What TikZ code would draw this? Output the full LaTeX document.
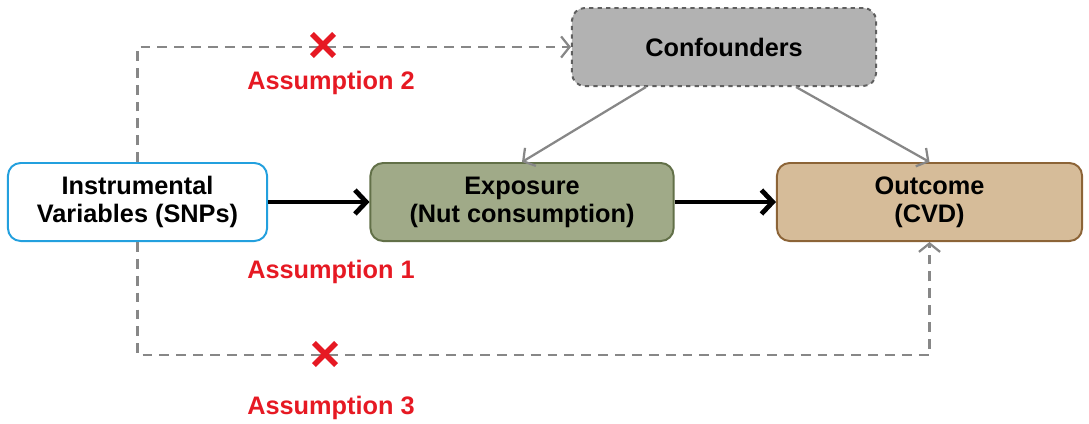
\documentclass[tikz,border=0pt]{standalone}
\usepackage{fontspec}
\setmainfont{Liberation Sans}
\usepackage{tikz}
\usetikzlibrary{arrows.meta,shapes.misc}
\definecolor{ivblue}{RGB}{35,160,222}
\definecolor{expgreen}{RGB}{160,170,136}
\definecolor{expedge}{RGB}{98,112,72}
\definecolor{outtan}{RGB}{214,188,153}
\definecolor{outedge}{RGB}{140,100,55}
\definecolor{confgray}{RGB}{178,178,178}
\definecolor{confedge}{RGB}{95,95,95}
\definecolor{linegray}{RGB}{135,135,135}
\definecolor{assumred}{RGB}{230,25,35}
\tikzstyle{factor}=[
        rounded corners=9pt,
        line width=1.4pt,
        align=center,
        font=\fontsize{18}{20}\selectfont\bfseries,
        minimum height=1.95cm,
        inner sep=0pt
]
\tikzstyle{causal}=[
        line width=3.4pt,
        -{Straight Barb[length=8pt,width=17pt]}
]
\tikzstyle{confounding}=[
        draw=linegray,
        line width=1.6pt,
        -{Straight Barb[length=6pt,width=15pt]}
]
\tikzstyle{violated}=[
        confounding,
        dash pattern=on 7pt off 5pt
]
\tikzstyle{assumption}=[
        text=assumred,
        font=\fontsize{18}{20}\selectfont\bfseries
]
\tikzstyle{broken}=[
        cross out,
        draw=assumred,
        line width=3.8pt,
        minimum size=12pt,
        inner sep=0pt
]

\begin{document}
\begin{tikzpicture}[x=0.025cm,y=-0.025cm]
                        \useasboundingbox (0,0) rectangle (1089,423);

                        \node[factor, draw=ivblue, fill=white, minimum width=6.475cm] (iv) at (137.5,202) {Instrumental\\Variables (SNPs)};
                        \node[factor, draw=expedge, fill=expgreen, minimum width=7.575cm] (exp) at (522,202) {Exposure\\(Nut consumption)};
                        \node[factor, draw=outedge, fill=outtan, minimum width=7.625cm] (out) at (929.5,202) {Outcome\\(CVD)};
                        \node[factor, draw=confedge, fill=confgray, dashed, minimum width=7.6cm] (conf) at (724,47) {Confounders};

                        \node[assumption] (a2) at (331,83) {Assumption 2};
                        \node[assumption] (a1) at (331,272) {Assumption 1};
                        \node[assumption] (a3) at (331,408) {Assumption 3};

                        \coordinate (low) at (137.5,355);

                        \draw[causal] (iv) -- (exp);
                        \draw[causal] (exp) -- (out);

                        \draw[confounding] ([xshift=-1.95cm]conf.south) -- (exp.north);
                        \draw[confounding] ([xshift=1.8cm]conf.south) -- (out.north);

                        \draw[violated] (iv.north) |- (conf.west);
                        \draw[violated] (iv.south) -- (low) -| (out.south);

                        \node[broken] (x2) at (323,45) {};
                        \node[broken] (x3) at (325,354) {};
                        
                    \end{tikzpicture}
\end{document}
